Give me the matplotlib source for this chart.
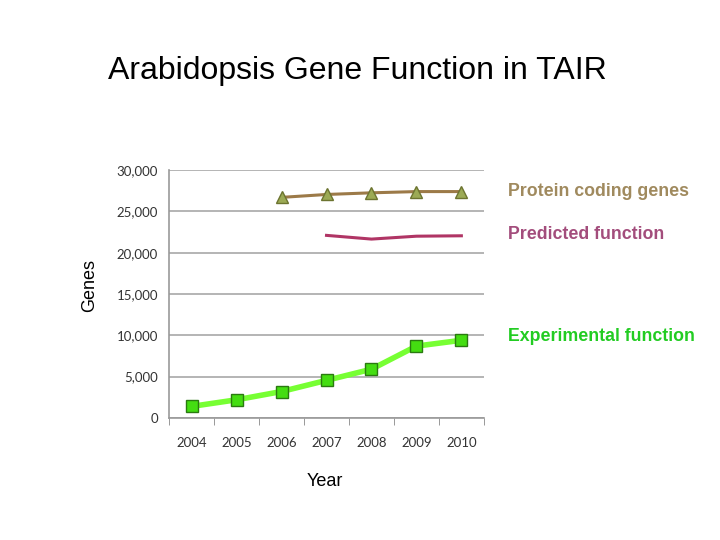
import matplotlib
matplotlib.use("Agg")
import matplotlib.pyplot as plt
import numpy as np

# данные
years = ["2004", "2005", "2006", "2007", "2008", "2009", "2010"]
protein_coding = [None, None, 26700, 27050, 27250, 27400, 27400]
predicted = [None, None, None, 22100, 21650, 22000, 22050]
experimental = [1400, 2200, 3200, 4550, 5900, 8700, 9400]
y_ticks = [0, 5000, 10000, 15000, 20000, 25000, 30000]


def to_arr(vals):
    return np.array([np.nan if v is None else v for v in vals], dtype=float)


x = np.arange(len(years))

fig = plt.figure(figsize=(7.2, 5.4), dpi=100)
ax = fig.add_axes([0.235, 0.226, 0.437, 0.459])

ax.plot(x, to_arr(protein_coding), color="#9c7a48", lw=2.2, marker="^",
        ms=8, mfc="#9caa55", mec="#6c7430", mew=1, zorder=3)
ax.plot(x, to_arr(predicted), color="#b03565", lw=2.2, zorder=3)
ax.plot(x, to_arr(experimental), color="#77ff33", lw=4, marker="s",
        ms=8, mfc="#44dd11", mec="#2a7a10", mew=1, zorder=3)

ax.set_xlim(-0.5, len(years) - 0.5)
ax.set_ylim(0, 30000)
ax.set_yticks(y_ticks)
ax.set_yticklabels([f"{v:,}" for v in y_ticks], family="Lato", fontsize=9.5,
                   color="#333333")
ax.set_xticks(x)
ax.set_xticklabels(years, family="Lato", fontsize=9.5, color="#333333")
ax.tick_params(axis="x", length=0, pad=14)
ax.tick_params(axis="y", length=0, pad=8)
ax.set_xticks(np.arange(-0.5, len(years)), minor=True)
ax.tick_params(axis="x", which="minor", length=5, color="#888888",
               direction="out")

ax.grid(axis="y", color="#a8a8a8", lw=1.2)
ax.set_axisbelow(True)
for side in ["top", "right"]:
    ax.spines[side].set_visible(False)
ax.spines["left"].set_color("#999999")
ax.spines["bottom"].set_color("#999999")
ax.spines["left"].set_linewidth(1.2)
ax.spines["bottom"].set_linewidth(1.2)

fig.text(0.497, 0.868, "Arabidopsis Gene Function in TAIR",
         family="Liberation Sans", fontsize=23, ha="center", va="center")
fig.text(0.124, 0.472, "Genes", family="Liberation Sans", fontsize=13,
         rotation=90, ha="center", va="center")
fig.text(0.451, 0.109, "Year", family="Liberation Sans", fontsize=13,
         ha="center", va="center")

fig.text(0.706, 0.646, "Protein coding genes", family="Liberation Sans",
         fontsize=12.8, weight="bold", color="#a08a5e", va="center")
fig.text(0.706, 0.566, "Predicted function", family="Liberation Sans",
         fontsize=12.8, weight="bold", color="#a34d7c", va="center")
fig.text(0.706, 0.377, "Experimental function", family="Liberation Sans",
         fontsize=12.8, weight="bold", color="#22cc22", va="center")

fig.savefig("out.png", dpi=100)
